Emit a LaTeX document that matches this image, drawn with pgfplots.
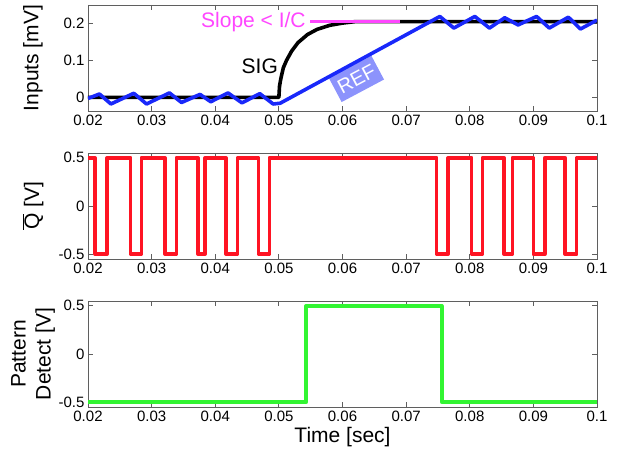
\documentclass[border=0pt]{standalone}
\usepackage{pgfplots}
\pgfplotsset{compat=1.18}
\usepackage{fontspec}
\setmainfont{Liberation Sans}
\definecolor{refblue}{RGB}{25,40,250}
\definecolor{slopemag}{RGB}{255,70,255}
\definecolor{qred}{RGB}{255,20,35}
\definecolor{detgreen}{RGB}{50,245,50}
\definecolor{axgray}{RGB}{95,95,95}

\pgfplotsset{
  panel/.style={scale only axis,width=509pt,height=106pt,
    xmin=0.02,xmax=0.1,
    xtick={0.02,0.03,0.04,0.05,0.06,0.07,0.08,0.09,0.1},
    xticklabels={0.02,0.03,0.04,0.05,0.06,0.07,0.08,0.09,0.1},
    tick align=inside,xtick pos=both,ytick pos=both,
    xticklabel pos=bottom,yticklabel pos=left,
    major tick length=5pt,
    axis line style={axgray,line width=0.9pt},
    tick style={axgray,line width=0.9pt},
    tick label style={font=\fontsize{15}{17}\selectfont},
    every axis y label/.style={at={(axis description cs:-0.108,0.5)},rotate=90,anchor=center,
      font=\fontsize{21}{25}\selectfont,align=center},
    every axis x label/.style={at={(axis description cs:0.5,-0.285)},anchor=center,
      font=\fontsize{21}{24}\selectfont},
    every axis plot/.append style={line width=3.6pt,line join=round}},
}

\begin{document}
\begin{tikzpicture}
\path[use as bounding box] (0pt,0pt) rectangle (619pt,453pt);

% Inputs
\begin{axis}[panel,at={(88pt,342pt)},anchor=south west,
  ymin=-0.037,ymax=0.25,ytick={0,0.1,0.2},yticklabels={0,0.1,0.2},
  ylabel={Inputs [mV]}]
\addplot[black] coordinates {(0.02,0) (0.05,0) (0.0501,0.03) (0.0503,0.05) (0.0507,0.08)
 (0.0512,0.10) (0.052,0.125) (0.053,0.148) (0.0545,0.17) (0.056,0.184) (0.058,0.195)
 (0.060,0.201) (0.062,0.205) (0.1,0.205)};
\addplot[slopemag] coordinates {(0.0549,0.205) (0.069,0.205)};
\addplot[refblue] coordinates {(0.02,-0.003) (0.0218,0.009) (0.0236,-0.018) (0.0272,0.011)
 (0.0292,-0.018) (0.0328,0.012) (0.0347,-0.014) (0.0376,0.008) (0.0393,-0.012) (0.0420,0.012)
 (0.0442,-0.015) (0.0470,0.010) (0.0491,-0.018) (0.0502,-0.016) (0.0753,0.219) (0.0775,0.1875)
 (0.0808,0.219) (0.0831,0.1875) (0.0855,0.2155) (0.0876,0.196) (0.0905,0.219) (0.0925,0.1875)
 (0.0955,0.217) (0.0974,0.185) (0.1,0.209)};
\node[text=slopemag,anchor=east,inner sep=1pt,font=\fontsize{21}{24}\selectfont] at (axis cs:0.0544,0.205) {Slope < I/C};
\node[font=\fontsize{21}{24}\selectfont,anchor=center] at (axis cs:0.0470,0.085) {SIG};
\node[fill=refblue,fill opacity=0.5,text opacity=1,text=white,rotate=28,
  minimum width=48pt,minimum height=27pt,inner sep=1pt,
  font=\fontsize{20}{23}\selectfont] at (axis cs:0.0622,0.050) {REF};
\end{axis}

% Q bar
\begin{axis}[panel,at={(88pt,194pt)},anchor=south west,
  ymin=-0.55,ymax=0.55,ytick={-0.5,0,0.5},yticklabels={-0.5,0,0.5},
  ylabel={$\overline{\mbox{Q}}$ [V]}]
\addplot[qred] coordinates {(0.02,0.5) (0.0211,0.5) (0.0211,-0.5) (0.0230,-0.5) (0.0230,0.5)
 (0.0267,0.5) (0.0267,-0.5) (0.0284,-0.5) (0.0284,0.5) (0.0321,0.5) (0.0321,-0.5)
 (0.0339,-0.5) (0.0339,0.5) (0.0373,0.5) (0.0373,-0.5) (0.0384,-0.5) (0.0384,0.5)
 (0.0417,0.5) (0.0417,-0.5) (0.0435,-0.5) (0.0435,0.5) (0.0468,0.5) (0.0468,-0.5)
 (0.0485,-0.5) (0.0485,0.5) (0.0748,0.5) (0.0748,-0.5) (0.0766,-0.5) (0.0766,0.5)
 (0.0803,0.5) (0.0803,-0.5) (0.0820,-0.5) (0.0820,0.5) (0.0854,0.5) (0.0854,-0.5)
 (0.0867,-0.5) (0.0867,0.5) (0.0900,0.5) (0.0900,-0.5) (0.0918,-0.5) (0.0918,0.5)
 (0.0950,0.5) (0.0950,-0.5) (0.0968,-0.5) (0.0968,0.5) (0.1,0.5)};
\end{axis}

% Pattern detect
\begin{axis}[panel,at={(88pt,46pt)},anchor=south west,
  ymin=-0.55,ymax=0.55,ytick={-0.5,0,0.5},yticklabels={-0.5,0,0.5},
  ylabel={Pattern\\Detect [V]},xlabel={Time [sec]}]
\addplot[detgreen] coordinates {(0.02,-0.5) (0.0543,-0.5) (0.0543,0.5) (0.0756,0.5)
 (0.0756,-0.5) (0.1,-0.5)};
\end{axis}
\end{tikzpicture}
\end{document}
